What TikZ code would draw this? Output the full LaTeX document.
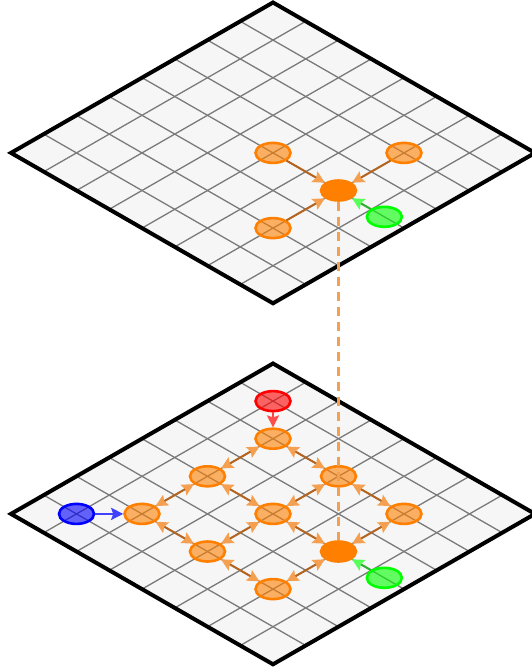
\documentclass[tikz,border=0pt]{standalone}
\usepackage{xcolor}
\definecolor{planefill}{HTML}{F6F6F6}
\definecolor{gridgray}{HTML}{7A7A7A}
\definecolor{nodeor}{HTML}{FF8000}
\definecolor{linkor}{HTML}{B4641E}
\definecolor{tipor}{HTML}{F5A050}
\definecolor{nodered}{HTML}{FF0000}
\definecolor{nodeblue}{HTML}{0000FF}
\definecolor{nodegreen}{HTML}{00FF00}
\definecolor{linkgreen}{HTML}{30B030}
\usetikzlibrary{arrows.meta,shapes.geometric}

\begin{document}
\begin{tikzpicture}[x=1pt,y=1pt,
  iso/.style={shift={(273,#1)},x={(32.75pt,-18.8pt)},y={(-32.75pt,-18.8pt)}},
  rim/.style={draw=black,line width=4pt,line join=miter},
  gridline/.style={draw=gridgray,line width=1.3pt},
  cell/.style={ellipse,minimum width=35pt,minimum height=20pt,inner sep=0pt,line width=2.6pt},
  soft/.style={cell,draw=#1,fill=#1,fill opacity=0.6},
  hub/.style={cell,draw=nodeor,fill=nodeor},
  tip/.tip={Stealth[length=12pt,width=12pt,inset=2pt]},
  link/.style={draw=linkor,line width=2pt},
  oneway/.style={link,arrows={-tip[color=tipor]}},
  twoway/.style={link,arrows={tip[color=tipor]-tip[color=tipor]}}]
\useasboundingbox (0,0) rectangle (532,-672);

\foreach \oy in {-2.5,-363.5} {
  \begin{scope}[iso=\oy]
    \fill[planefill] (0,0) -- (8,0) -- (8,8) -- (0,8) -- cycle;
    \foreach \i in {1,...,7} {
      \draw[gridline] (\i,0) -- (\i,8);
      \draw[gridline] (0,\i) -- (8,\i);
    }
    \draw[rim] (0,0) -- (8,0) -- (8,8) -- (0,8) -- cycle;
  \end{scope}
}

\begin{scope}[iso=-2.5]
  \node[soft=nodeor] (t44) at (4,4) {};
  \node[soft=nodeor] (t62) at (6,2) {};
  \node[soft=nodeor] (t66) at (6,6) {};
  \node[hub] (t64) at (6,4) {};
  \node[soft=nodegreen] (tg) at (7.4,4) {};
\end{scope}
\draw[oneway] (t44) -- (t64);
\draw[oneway] (t62) -- (t64);
\draw[oneway] (t66) -- (t64);
\draw[draw=linkgreen,line width=2pt,arrows={-tip[color=nodegreen!65]}] (tg) -- (t64);

\begin{scope}[iso=-363.5]
  \node[soft=nodered] (br) at (1,1) {};
  \node[soft=nodeblue] (bb) at (1,7) {};
  \node[soft=nodeor] (b22) at (2,2) {};
  \node[soft=nodeor] (b24) at (2,4) {};
  \node[soft=nodeor] (b26) at (2,6) {};
  \node[soft=nodeor] (b42) at (4,2) {};
  \node[soft=nodeor] (b44) at (4,4) {};
  \node[soft=nodeor] (b46) at (4,6) {};
  \node[soft=nodeor] (b62) at (6,2) {};
  \node[hub] (b64) at (6,4) {};
  \node[soft=nodeor] (b66) at (6,6) {};
  \node[soft=nodegreen] (bg) at (7.4,4) {};
\end{scope}
\foreach \a/\b in {22/24,22/42,24/26,24/44,42/44,42/62,26/46,44/46,44/64,62/64,46/66,64/66}
  \draw[twoway] (b\a) -- (b\b);
\draw[draw=nodered!75,line width=2pt,arrows={-tip[color=nodered!70]}] (br) -- (b22);
\draw[draw=nodeblue!75,line width=2.6pt,arrows={-tip[color=nodeblue!75]}] (bb) -- (b26);
\draw[draw=linkgreen,line width=2pt,arrows={-tip[color=nodegreen!65]}] (bg) -- (b64);

\draw[tipor,line width=3pt,dash pattern=on 9pt off 6pt] (t64) -- (b64);
\end{tikzpicture}
\end{document}
